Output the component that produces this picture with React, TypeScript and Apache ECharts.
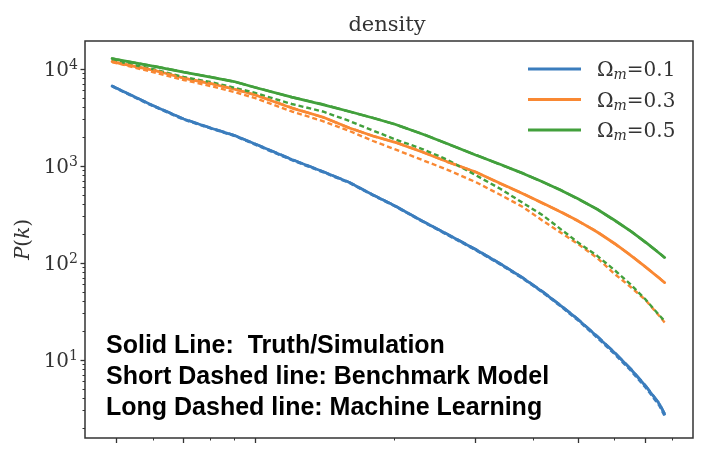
import React, { useEffect, useRef } from "react";
import * as echarts from "echarts";

// wavenumbers k (h/Mpc) shared by every curve
const kValues = [0.049, 0.05, 0.06, 0.07, 0.08, 0.09, 0.1, 0.12, 0.14, 0.16, 0.18, 0.2, 0.23, 0.26, 0.3, 0.34, 0.38, 0.42, 0.46, 0.5, 0.55, 0.6, 0.65, 0.7, 0.75, 0.77];

// Ωm = 0.1
const blueTruth = [6680, 6370, 4205, 3051, 2466, 2073, 1686, 1167, 878, 676, 502, 392, 271, 199, 138, 97.7, 70.0, 50.2, 36.0, 26.2, 17.5, 11.9, 8.07, 5.40, 3.52, 2.77];
const blueBench = [6620, 6300, 4150, 3010, 2440, 2050, 1660, 1150, 866, 668, 497, 388, 268, 196, 136, 96.0, 68.9, 49.4, 35.3, 25.6, 17.0, 11.5, 7.80, 5.21, 3.38, 2.64];
const blueML = [6700, 6390, 4230, 3070, 2480, 2080, 1695, 1175, 882, 680, 505, 394, 272, 200, 139, 98.3, 70.5, 50.6, 36.3, 26.4, 17.7, 12.0, 8.15, 5.46, 3.57, 2.81];

// Ωm = 0.3
const orangeTruth = [11950, 11670, 9770, 8080, 7090, 6220, 5400, 3960, 3200, 2466, 2039, 1767, 1393, 1112, 867, 660, 517, 413, 334, 272, 209, 159, 120, 91.4, 69.7, 62.8];
const orangeBench = [11800, 11530, 9310, 7710, 6680, 5800, 5020, 3650, 2910, 2295, 1811, 1496, 1153, 920, 684, 502, 378, 271, 204, 157, 113, 77.1, 56.6, 41.6, 28.4, 24.4];
const orangeML = [11990, 11700, 9800, 8050, 7120, 6200, 5420, 3990, 3180, 2480, 2030, 1775, 1400, 1105, 872, 655, 520, 410, 336, 270, 211, 158, 121, 90.8, 70.2, 62.2];

// Ωm = 0.5
const greenTruth = [12830, 12590, 10740, 9314, 8270, 7432, 6447, 5144, 4305, 3647, 3125, 2710, 2138, 1708, 1298, 1036, 839, 684, 560, 459, 358, 276, 213, 164, 126, 114];
const greenBench = [12390, 12090, 10000, 8270, 7350, 6440, 5660, 4360, 3650, 2910, 2320, 1898, 1496, 1167, 807, 579, 416, 309, 221, 163, 118.6, 84.5, 60.1, 42.1, 28.9, 25.2];
const greenML = [12860, 12560, 10770, 9290, 8300, 7410, 6470, 5120, 4330, 3630, 3140, 2700, 2150, 1700, 1305, 1030, 842, 680, 563, 456, 360, 274, 214, 163, 127, 113];

const legendNames = ["Ωm=0.1", "Ωm=0.3", "Ωm=0.5"];
const xMajorTicks = [0.05, 0.07, 0.1, 0.3, 0.5, 0.7];
const xMinorTicks = [0.06, 0.08, 0.09, 0.2, 0.4, 0.6, 0.8];
const yDecades = [1, 2, 3, 4];

const noteLines = [
  "Solid Line:  Truth/Simulation",
  "Short Dashed line: Benchmark Model",
  "Long Dashed line: Machine Learning",
];

const COLORS = ["#3b7dbd", "#f98833", "#42a03c"];
const SERIF = "'DejaVu Serif', serif";
const INK = "#333";

const K_MIN = 0.0428;
const K_MAX = 0.887;
const P_MIN = 1.57;
const P_MAX = 19450;

const toPoints = (vals: number[]) =>
  kValues.map((k, i) => [Math.log10(k), Math.log10(vals[i])]);

const yMinorTicks: number[] = [];
for (let d = 0; d <= 4; d++) {
  for (let m = 2; m <= 9; m++) {
    const v = Math.log10(m * Math.pow(10, d));
    if (v > Math.log10(P_MIN) && v < Math.log10(P_MAX)) yMinorTicks.push(v);
  }
}

export default function App() {
  const ref = useRef<HTMLDivElement>(null);

  useEffect(() => {
    if (!ref.current) return;
    const chart = echarts.init(ref.current, null, { renderer: "svg" });

    const groups = [
      { truth: blueTruth, bench: blueBench, ml: blueML },
      { truth: orangeTruth, bench: orangeBench, ml: orangeML },
      { truth: greenTruth, bench: greenBench, ml: greenML },
    ];

    const series: any[] = [];
    groups.forEach((g, i) => {
      series.push({
        type: "line",
        name: legendNames[i],
        data: toPoints(g.truth),
        symbol: "none",
        showSymbol: false,
        lineStyle: { color: COLORS[i], width: 2.8, type: "solid", cap: "round" },
        itemStyle: { color: COLORS[i] },
        z: 2,
      });
    });
    groups.forEach((g, i) => {
      series.push({
        type: "line",
        name: legendNames[i] + " benchmark",
        data: toPoints(g.bench),
        symbol: "none",
        showSymbol: false,
        lineStyle: { color: COLORS[i], width: 2.4, type: [5, 3] },
        itemStyle: { color: COLORS[i] },
        z: 3,
      });
    });
    groups.forEach((g, i) => {
      series.push({
        type: "line",
        name: legendNames[i] + " ML",
        data: toPoints(g.ml),
        symbol: "none",
        showSymbol: false,
        lineStyle: { color: COLORS[i], width: 2.4, type: [10, 4] },
        itemStyle: { color: COLORS[i] },
        z: 4,
      });
    });

    const xBase = {
      type: "value",
      min: Math.log10(K_MIN),
      max: Math.log10(K_MAX),
      axisLine: { show: false },
      axisLabel: { show: false },
      splitLine: { show: false },
    };
    const yBase = {
      type: "value",
      min: Math.log10(P_MIN),
      max: Math.log10(P_MAX),
      axisLine: { show: false },
      splitLine: { show: false },
    };

    chart.setOption({
      animation: false,
      title: {
        text: "density",
        left: 382,
        textAlign: "center",
        top: 8,
        textStyle: { fontFamily: SERIF, fontSize: 21, fontWeight: "normal", color: INK },
      },
      grid: {
        left: 85,
        top: 41,
        width: 608,
        height: 397,
        show: true,
        borderColor: INK,
        borderWidth: 1.5,
        backgroundColor: "#fff",
      },
      legend: {
        data: legendNames,
        orient: "vertical",
        left: 528,
        top: 59,
        padding: 0,
        icon: "rect",
        itemWidth: 53,
        itemHeight: 3,
        itemGap: 8.5,
        formatter: (name: string) => `{a|Ω}{m|m}{a|=${name.split("=")[1]}}`,
        textStyle: {
          padding: [0, 0, 0, 11],
          rich: {
            a: { fontFamily: SERIF, fontSize: 20, lineHeight: 24, color: INK },
            m: { fontFamily: SERIF, fontSize: 14, fontStyle: "italic", lineHeight: 14, verticalAlign: "bottom", color: INK },
          },
        },
      },
      xAxis: [
        {
          ...xBase,
          position: "bottom",
          axisTick: {
            show: true,
            length: 5,
            lineStyle: { color: INK, width: 1.3 },
            customValues: xMajorTicks.map((v) => Math.log10(v)),
          },
        },
        {
          ...xBase,
          position: "bottom",
          axisTick: {
            show: true,
            length: 2.5,
            lineStyle: { color: INK, width: 1 },
            customValues: xMinorTicks.map((v) => Math.log10(v)),
          },
        },
      ],
      yAxis: [
        {
          ...yBase,
          position: "left",
          name: "{i|P}{r|(}{i|k}{r|)}",
          nameLocation: "middle",
          nameGap: 53,
          nameRotate: 90,
          nameTextStyle: {
            rich: {
              i: { fontFamily: SERIF, fontSize: 20, fontStyle: "italic", color: INK },
              r: { fontFamily: SERIF, fontSize: 20, color: INK },
            },
          },
          axisTick: {
            show: true,
            length: 4.5,
            lineStyle: { color: INK, width: 1.3 },
            customValues: yDecades,
          },
          axisLabel: {
            show: true,
            margin: 7,
            customValues: yDecades,
            formatter: (v: number) => `{b|10}{s|${Math.round(v)}}`,
            rich: {
              b: { fontFamily: SERIF, fontSize: 20, lineHeight: 24, color: INK },
              s: { fontFamily: SERIF, fontSize: 14, lineHeight: 14, verticalAlign: "top", color: INK },
            },
          },
        },
        {
          ...yBase,
          position: "left",
          axisLabel: { show: false },
          axisTick: {
            show: true,
            length: 2.5,
            lineStyle: { color: INK, width: 1 },
            customValues: yMinorTicks,
          },
        },
      ],
      series,
      graphic: noteLines.map((t, i) => ({
        type: "text",
        left: 106,
        top: 331 + i * 31,
        z: 10,
        style: {
          text: t,
          font: "bold 25px 'Liberation Sans', Arial, sans-serif",
          fill: "#000",
        },
      })),
    });

    return () => chart.dispose();
  }, []);

  return (
    <div
      ref={ref}
      style={{ position: "fixed", left: 0, top: 0, width: 715, height: 463 }}
    />
  );
}
